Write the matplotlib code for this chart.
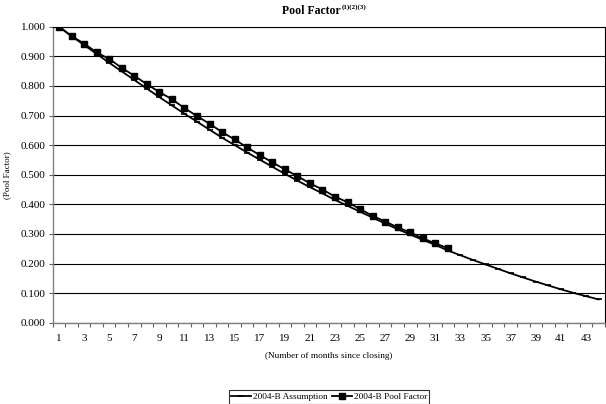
import matplotlib
matplotlib.use("Agg")
import matplotlib.pyplot as plt
import numpy as np

plt.rcParams['font.family'] = ['Liberation Serif', 'DejaVu Serif']

# months since closing
months_assumption = list(range(1, 45))
assumption = [1.000, 0.968, 0.938, 0.908, 0.878, 0.849, 0.820, 0.791, 0.762, 0.734,
              0.706, 0.679, 0.652, 0.625, 0.600, 0.575, 0.551, 0.527, 0.503, 0.480,
              0.458, 0.437, 0.415, 0.395, 0.375, 0.355, 0.335, 0.316, 0.298, 0.280,
              0.263, 0.244, 0.228, 0.212, 0.197, 0.182, 0.167, 0.153, 0.139, 0.126,
              0.113, 0.101, 0.090, 0.079]

months_actual = list(range(1, 33))
pool_factor = [1.000, 0.968, 0.943, 0.913, 0.891, 0.861, 0.834, 0.806, 0.779, 0.755,
               0.725, 0.698, 0.672, 0.644, 0.619, 0.592, 0.566, 0.542, 0.518, 0.495,
               0.471, 0.450, 0.426, 0.407, 0.384, 0.361, 0.342, 0.322, 0.305, 0.285,
               0.268, 0.252]

y_ticks = np.arange(0, 1.01, 0.1)
x_label_ticks = list(range(1, 45, 2))

fig = plt.figure(figsize=(6.06, 4.04), dpi=100)
ax = fig.add_axes([0.087, 0.201, 0.911, 0.733])

# grid lines
for y in y_ticks:
    ax.axhline(y, color='black', linewidth=0.8, zorder=1)

ax.plot(months_assumption, assumption, color='black', linewidth=1.3,
        marker='_', markersize=4, markeredgewidth=1.2, zorder=3,
        label='2004-B Assumption')
ax.plot(months_actual, pool_factor, color='black', linewidth=1.3,
        marker='s', markersize=4.5, zorder=4,
        label='2004-B Pool Factor')

ax.set_xlim(0.5, 44.5)
ax.set_ylim(0, 1.0)

# category axis: ticks between categories, labels on odd months
ax.set_xticks(np.arange(0.5, 45, 1))
ax.set_xticklabels([])
ax.set_xticks(x_label_ticks, minor=True)
ax.set_xticklabels([str(m) for m in x_label_ticks], minor=True)
ax.tick_params(axis='x', which='major', direction='out', length=3, width=0.8, color='#606060')
ax.tick_params(axis='x', which='minor', length=0, pad=8, labelsize=8)

ax.set_yticks(y_ticks)
ax.set_yticklabels([f'{v:.3f}' for v in y_ticks])
ax.tick_params(axis='y', direction='out', length=3, width=0.8, color='#606060',
               pad=2, labelsize=8)

for side in ['left', 'bottom']:
    ax.spines[side].set_color('#808080')
    ax.spines[side].set_linewidth(1.0)
for side in ['right', 'top']:
    ax.spines[side].set_color('black')
    ax.spines[side].set_linewidth(0.8)

fig.text(341 / 606, 1 - 11 / 404, 'Pool Factor', fontsize=8.5, fontweight='bold',
         ha='right', va='center')
fig.text(341.5 / 606, 1 - 7 / 404, '(1)(2)(3)', fontsize=5, fontweight='bold',
         ha='left', va='center')

fig.text(7 / 606, 0.5675, '(Pool Factor)', fontsize=6.5, rotation=90,
         ha='center', va='center')
fig.text(329 / 606, 1 - 356 / 404, '(Number of months since closing)', fontsize=6.7,
         ha='center', va='center')

leg = fig.legend(loc='center', bbox_to_anchor=(329 / 606, 1 - 397 / 404), ncol=2,
                 fontsize=6.7, frameon=True, fancybox=False, edgecolor='black',
                 borderpad=0.25, handlelength=2.2, handletextpad=0.2,
                 columnspacing=0.4, numpoints=1, borderaxespad=0)
leg.get_frame().set_linewidth(0.8)

fig.savefig('out.png', dpi=100)
